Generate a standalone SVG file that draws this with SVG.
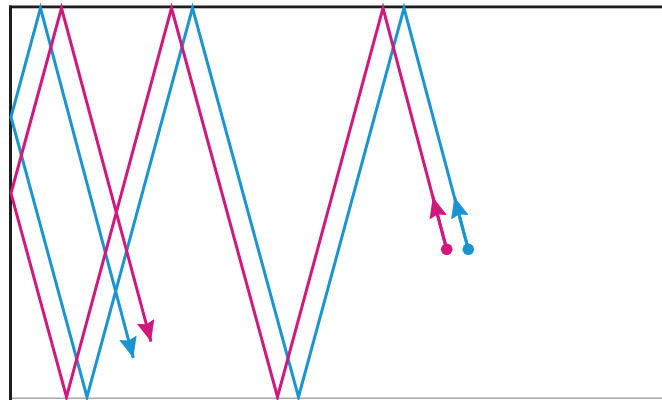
<svg xmlns="http://www.w3.org/2000/svg" width="662" height="400" viewBox="0 0 662 400">
  <style>
    .ln { fill: none; stroke-width: 3; stroke-linejoin: miter; stroke-linecap: butt; }
    .blue { stroke: #1b95d2; }
    .mag { stroke: #d2187b; }
  </style>
  <defs>
    <marker id="ahBlue" viewBox="0 0 21 18" markerWidth="21" markerHeight="18" refX="21" refY="9" orient="auto" markerUnits="userSpaceOnUse">
      <path d="M0,0 L21,9 L0,18 L3,9 z" fill="#1b95d2"/>
    </marker>
    <marker id="ahMag" viewBox="0 0 21 18" markerWidth="21" markerHeight="18" refX="21" refY="9" orient="auto" markerUnits="userSpaceOnUse">
      <path d="M0,0 L21,9 L0,18 L3,9 z" fill="#d2187b"/>
    </marker>
  </defs>
  <rect x="0" y="0" width="662" height="400" fill="#ffffff"/>
  <g id="frame">
    <rect x="12" y="397.5" width="650" height="1.5" fill="#a8a8a8"/>
    <rect x="9" y="5.5" width="653" height="2.8" fill="#1e1e1e"/>
    <rect x="9" y="5.5" width="3" height="394.5" fill="#1e1e1e"/>
  </g>
  <g id="connectors">
    <path class="ln blue" d="M468.3,249.3 L404,8 L298.5,397 L192.5,8 L87,397 L11,117 L40.5,8 L133.3,358" marker-end="url(#ahBlue)"/>
    <path class="ln blue" d="M468.3,249.3 L454.4,197" marker-end="url(#ahBlue)"/>
    <path class="ln mag" d="M446.7,249.3 L383,8 L277.5,397 L171.5,8 L66.5,397 L11,193.3 L61.5,8 L151,341.7" marker-end="url(#ahMag)"/>
    <path class="ln mag" d="M446.7,249.3 L432.8,197" marker-end="url(#ahMag)"/>
  </g>
  <g id="start-blue">
    <circle cx="468.3" cy="249.3" r="5.8" fill="#1b95d2"/>
  </g>
  <g id="start-magenta">
    <circle cx="446.7" cy="249.3" r="5.8" fill="#d2187b"/>
  </g>
</svg>
